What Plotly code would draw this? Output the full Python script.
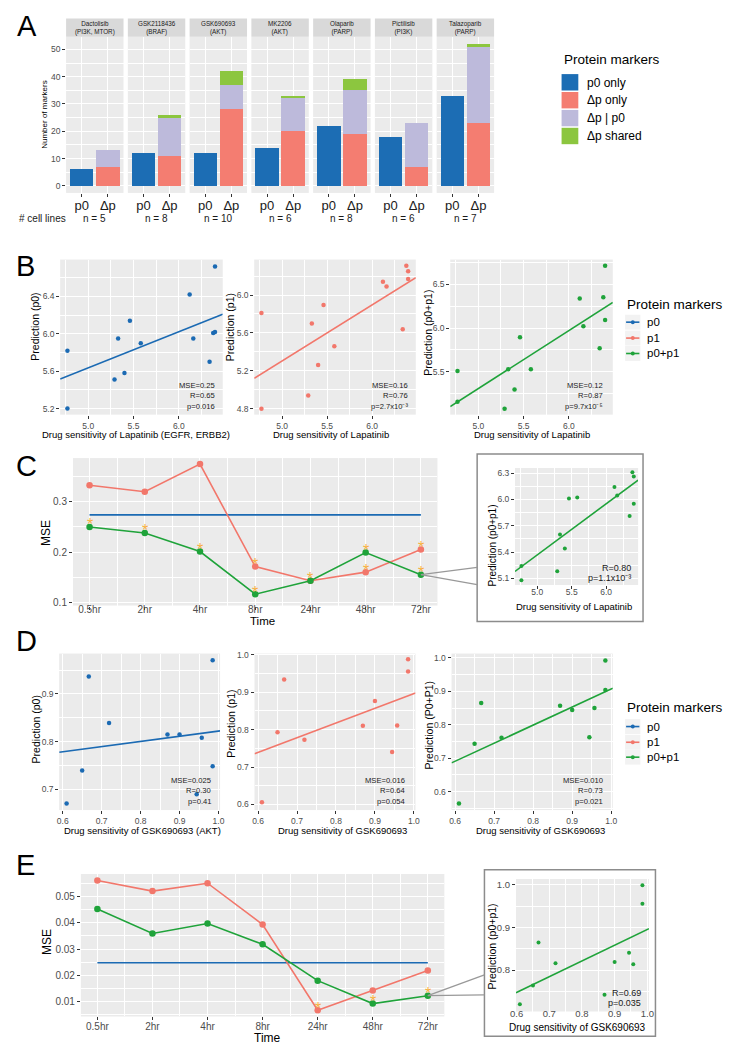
import plotly.graph_objects as go

W, H = 736, 1050
FONT = "Liberation Sans, Arial, Helvetica, sans-serif"

# ---------------- Panel A data ----------------
drugs = ["Dactolisib", "GSK2118436", "GSK690693", "MK2206", "Olaparib", "Pictilisib", "Talazoparib"]
targets = ["PI3K, MTOR", "BRAF", "AKT", "AKT", "PARP", "PI3K", "PARP"]
n_cell_lines = [5, 8, 10, 6, 8, 6, 7]
p0_only = [6, 12, 12, 14, 22, 18, 33]
dp_only = [7, 11, 28, 20, 19, 7, 23]
dp_given_p0 = [6, 14, 9, 12, 16, 16, 28]
dp_shared = [0, 1, 5, 1, 4, 0, 1]
bar_categories = ["p0", "Δp"]
marker_groups = ["p0 only", "Δp only", "Δp | p0", "Δp shared"]

# ---------------- Panel B data (Lapatinib) ----------------
lap_sens = [4.77, 4.77, 5.29, 5.33, 5.40, 5.46, 5.58, 6.12, 6.16, 6.34, 6.38, 6.40, 6.40]
B_pred_p0 = [5.82, 5.20, 5.51, 5.95, 5.58, 6.14, 5.90, 6.42, 5.95, 5.70, 6.01, 6.02, 6.72]
B_pred_p1 = [5.81, 4.80, 4.94, 5.70, 5.26, 5.895, 5.46, 6.14, 6.09, 5.64, 6.31, 6.25, 6.17]
B_pred_p0p1 = [5.51, 5.16, 5.08, 5.53, 5.30, 5.895, 5.53, 6.335, 6.02, 5.77, 6.35, 6.09, 6.71]
B_fit_slope = [0.386, 0.592, 0.660]
B_fit_intercept = [3.705, 2.345, 2.010]
B_stats = [["MSE=0.25", "R=0.65", "p=0.016"],
           ["MSE=0.16", "R=0.76", "p=2.7x10⁻³"],
           ["MSE=0.12", "R=0.87", "p=9.7x10⁻⁵"]]
B_ytitles = ["Prediction (p0)", "Prediction (p1)", "Prediction (p0+p1)"]
B_xtitles = ["Drug sensitivity of Lapatinib (EGFR, ERBB2)", "Drug sensitivity of Lapatinib",
             "Drug sensitivity of Lapatinib"]
series_names = ["p0", "p1", "p0+p1"]

# ---------------- Panel C data ----------------
times = ["0.5hr", "2hr", "4hr", "8hr", "24hr", "48hr", "72hr"]
C_mse_p0 = [0.274, 0.274, 0.274, 0.274, 0.274, 0.274, 0.274]
C_mse_p1 = [0.333, 0.320, 0.375, 0.171, 0.143, 0.160, 0.205]
C_mse_p0p1 = [0.250, 0.238, 0.201, 0.116, 0.143, 0.199, 0.155]
C_star_p1 = [0, 0, 0, 1, 0, 1, 1]
C_star_p0p1 = [1, 1, 1, 1, 1, 1, 1]
C_inset_pred = [5.08, 5.24, 5.18, 5.60, 5.44, 6.01, 6.02, 6.14, 6.045, 5.81, 6.31, 6.26, 5.95]
C_inset_fit = [0.583, 2.452]
C_inset_stats = ["R=0.80", "p=1.1x10⁻³"]

# ---------------- Panel D data (GSK690693) ----------------
gsk_sens = [0.61, 0.65, 0.667, 0.719, 0.869, 0.90, 0.944, 0.957, 0.985, 0.985]
D_pred_p0 = [0.670, 0.739, 0.937, 0.839, 0.815, 0.815, 0.689, 0.808, 0.971, 0.748]
D_pred_p1 = [0.606, 0.793, 0.934, 0.773, 0.810, 0.876, 0.740, 0.811, 0.9875, 0.955]
D_pred_p0p1 = [0.565, 0.7435, 0.865, 0.761, 0.857, 0.844, 0.763, 0.850, 0.992, 0.904]
D_fit_slope = [0.1085, 0.393, 0.540]
D_fit_intercept = [0.7135, 0.503, 0.367]
D_stats = [["MSE=0.025", "R=0.30", "p=0.41"],
           ["MSE=0.016", "R=0.64", "p=0.054"],
           ["MSE=0.010", "R=0.73", "p=0.021"]]
D_ytitles = ["Prediction (p0)", "Prediction (p1)", "Prediction (P0+P1)"]
D_xtitles = ["Drug sensitivity of GSK690693 (AKT)", "Drug sensitivity of GSK690693",
             "Drug sensitivity of GSK690693"]

# ---------------- Panel E data ----------------
E_mse_p0 = [0.0248, 0.0248, 0.0248, 0.0248, 0.0248, 0.0248, 0.0248]
E_mse_p1 = [0.0560, 0.0520, 0.0550, 0.0393, 0.0068, 0.0143, 0.0219]
E_mse_p0p1 = [0.0452, 0.0359, 0.0397, 0.0318, 0.0180, 0.0093, 0.0123]
E_star_p1 = [0, 0, 0, 0, 1, 0, 0]
E_star_p0p1 = [0, 0, 0, 0, 0, 1, 1]
E_inset_pred = [0.720, 0.764, 0.865, 0.816, 0.7425, 0.819, 0.841, 0.814, 0.9995, 0.956]
E_inset_fit = [0.3695, 0.526]
E_inset_stats = ["R=0.69", "p=0.035"]

# ---------------- styles ----------------
BAR_COLORS = ["#1c6db4", "#f47d71", "#bdbadb", "#8cc63f"]
SER_COLORS = ["#1b6ab3", "#f2776b", "#1fa33a"]
STAR = "#f7b03f"
BG = "#ebebeb"
TICKC = "#4d4d4d"

fig = go.Figure()
layout = dict(width=W, height=H, margin=dict(l=0, r=0, t=0, b=0),
              paper_bgcolor="white", plot_bgcolor=BG, showlegend=False,
              font=dict(family=FONT, color="black"))
annotations = []
shapes = []
_count = [0]


def px_x(p):
    return p / W


def px_y(p):
    return 1 - p / H


def ann(text, x, y, size, color="black", xanchor="center", yanchor="middle", angle=0, **kw):
    d = dict(text=text, x=px_x(x), y=px_y(y), xref="paper", yref="paper", showarrow=False,
             font=dict(size=size, color=color, family=FONT), xanchor=xanchor, yanchor=yanchor,
             textangle=angle)
    d.update(kw)
    annotations.append(d)


COMMON = dict(showgrid=True, gridcolor="white", gridwidth=1.1, zeroline=False, showline=False,
              ticks="outside", ticklen=3, tickwidth=1, tickcolor="#333333",
              tickfont=dict(size=8.5, color=TICKC, family=FONT), fixedrange=True)


def add_axes(xpx, ypx, xr, yr, xkw=None, ykw=None, shared_y=None):
    _count[0] += 1
    i = _count[0]
    s = "" if i == 1 else str(i)
    yname = shared_y if shared_y else "y" + s
    xa = dict(COMMON, domain=[px_x(xpx[0]), px_x(xpx[1])], range=xr, anchor=yname)
    if xkw:
        xa.update(xkw)
    layout["xaxis" + s] = xa
    if not shared_y:
        ya = dict(COMMON, domain=[px_y(ypx[1]), px_y(ypx[0])], range=yr, anchor="x" + s)
        if ykw:
            ya.update(ykw)
        layout["yaxis" + s] = ya
    return "x" + s, yname


def to_px(xpx, ypx, xr, yr, x, y):
    X = xpx[0] + (x - xr[0]) / (xr[1] - xr[0]) * (xpx[1] - xpx[0])
    Y = ypx[1] - (y - yr[0]) / (yr[1] - yr[0]) * (ypx[1] - ypx[0])
    return X, Y


def minor(t0, dt):
    return dict(showgrid=True, gridcolor="white", gridwidth=0.5, tick0=t0, dtick=dt, ticks="")


# ================= Panel A =================
ay_range = [-2.6, 54.6]
A_y = None
for i, drug in enumerate(drugs):
    x0 = 61 + i * 62.7
    x1 = x0 + 58.3
    xref, yref = add_axes([x0, x1], [33, 190], [0.4, 2.6], ay_range,
                          xkw=dict(tickmode="array", tickvals=[1, 2], ticktext=bar_categories,
                                   ticklabelstandoff=-3,
                                   tickfont=dict(size=13, color="#1a1a1a", family=FONT)),
                          ykw=dict(tick0=0, dtick=10, minor=minor(5, 10)),
                          shared_y=A_y)
    A_y = yref
    fig.add_trace(go.Bar(x=[1], y=[p0_only[i]], width=0.9, marker_color=BAR_COLORS[0],
                         marker_line_width=0, xaxis=xref, yaxis=yref, name=marker_groups[0]))
    for k, vals in enumerate([dp_only, dp_given_p0, dp_shared]):
        fig.add_trace(go.Bar(x=[2], y=[vals[i]], width=0.9, marker_color=BAR_COLORS[k + 1],
                             marker_line_width=0, xaxis=xref, yaxis=yref, name=marker_groups[k + 1]))
    shapes.append(dict(type="rect", xref="paper", yref="paper", x0=px_x(x0), x1=px_x(x1),
                       y0=px_y(33), y1=px_y(14.5), fillcolor="#d9d9d9", line_width=0, layer="below"))
    ann(f"{drug}<br>({targets[i]})", (x0 + x1) / 2, 24, 6.3, color="#1a1a1a")
    ann(f"n = {n_cell_lines[i]}", (x0 + x1) / 2, 215.5, 10, color="#1a1a1a")
layout["barmode"] = "stack"
ann("# cell lines", 37, 215.5, 10, color="#1a1a1a")
ann("Number of markers", 39, 111, 8, angle=-90)
ann("A", 21, 22.5, 29)

# Legend A
ann("Protein markers", 564, 56, 13.5, xanchor="left")
for k, name in enumerate(marker_groups):
    y0 = 70.5 + k * 18
    shapes.append(dict(type="rect", xref="paper", yref="paper", x0=px_x(564), x1=px_x(581),
                       y0=px_y(y0 + 16.5), y1=px_y(y0), fillcolor=BAR_COLORS[k], line_width=0))
    ann(name, 587.5, y0 + 8.5, 12, xanchor="left")


# ================= scatter helper =================
def scatter_panel(xpx, ypx, xr, yr, xt0, xdt, yt0, ydt, xs, ys, color, slope, intercept,
                  fmt_x=".1f", fmt_y=".1f", tsize=8.5, msize=4.5, xstand=0, xticks="outside"):
    xref, yref = add_axes(xpx, ypx, xr, yr,
                          xkw=dict(tick0=xt0, dtick=xdt, tickformat=fmt_x, minor=minor(xt0 + xdt / 2, xdt),
                                   ticklabelstandoff=xstand, ticks=xticks,
                                   tickfont=dict(size=tsize, color=TICKC, family=FONT)),
                          ykw=dict(tick0=yt0, dtick=ydt, tickformat=fmt_y, minor=minor(yt0 + ydt / 2, ydt),
                                   tickfont=dict(size=tsize, color=TICKC, family=FONT)))
    fig.add_trace(go.Scatter(x=xs, y=ys, mode="markers", marker=dict(color=color, size=msize),
                             xaxis=xref, yaxis=yref, cliponaxis=False))
    fig.add_trace(go.Scatter(x=list(xr), y=[slope * v + intercept for v in xr], mode="lines",
                             line=dict(color=color, width=1.6), xaxis=xref, yaxis=yref))
    return xref, yref


def legend_lines(top, rows):
    ann("Protein markers", 628, top, 13.5, xanchor="left")
    for k, name in enumerate(series_names):
        yc = rows[k]
        shapes.append(dict(type="rect", xref="paper", yref="paper", x0=px_x(628.5), x1=px_x(644),
                           y0=px_y(yc + 7.5), y1=px_y(yc - 7.5), fillcolor="#f2f2f2", line_width=0))
        shapes.append(dict(type="line", xref="paper", yref="paper", x0=px_x(629.5), x1=px_x(643),
                           y0=px_y(yc), y1=px_y(yc), line=dict(color=SER_COLORS[k], width=1.6)))
        shapes.append(dict(type="circle", xref="paper", yref="paper", x0=px_x(634.3), x1=px_x(638.3),
                           y0=px_y(yc + 2), y1=px_y(yc - 2), fillcolor=SER_COLORS[k], line_width=0))
        ann(name, 648.5, yc, 11.5, xanchor="left")


# ================= Panel B =================
B_xpx = [[55, 220], [252, 416], [451, 616]]
B_yr = [[5.135, 6.795], [4.737, 6.375], [5.013, 6.78]]
B_ytick = [(5.2, 0.4), (4.8, 0.4), (5.5, 0.5)]
B_xr = [4.69, 6.485]
B_preds = [B_pred_p0, B_pred_p1, B_pred_p0p1]
B_ytitle_pos = [(30, 325), (227.5, 325), (429, 331)]
B_xtitle_pos = [131.5, 330, 533.5]
B_stat_right = [214, 410, 608.5]
for j in range(3):
    scatter_panel(B_xpx[j], [257, 413], B_xr, B_yr[j], 5.0, 0.5, B_ytick[j][0], B_ytick[j][1],
                  lap_sens, B_preds[j], SER_COLORS[j], B_fit_slope[j], B_fit_intercept[j])
    ann(B_ytitles[j], B_ytitle_pos[j][0], B_ytitle_pos[j][1], 10.5, angle=-90)
    ann(B_xtitles[j], B_xtitle_pos[j], 433, 9.5)
    for r, t in enumerate(B_stats[j]):
        ann(t, B_stat_right[j], 383.3 + r * 10.9, 7.6, color="#1a1a1a", xanchor="right")
ann("B", 20, 264, 29)
legend_lines(302, [320, 336, 351.5])


# ================= line panel helper =================
def line_panel(xpx, ypx, yr, yt0, ydt, fmt_y, p0, p1, p0p1, star1, star2, xstand):
    xr = [0.7, 7.3]
    xref, yref = add_axes(xpx, ypx, xr, yr,
                          xkw=dict(tickmode="array", tickvals=list(range(1, 8)), ticktext=times,
                                   ticklabelstandoff=xstand,
                                   tickfont=dict(size=10, color=TICKC, family=FONT),
                                   minor=dict(showgrid=True, gridcolor="white", gridwidth=0.5,
                                              tickmode="array", tickvals=[k + 0.5 for k in range(1, 7)])),
                          ykw=dict(tick0=yt0, dtick=ydt, tickformat=fmt_y,
                                   tickfont=dict(size=10, color=TICKC, family=FONT),
                                   minor=minor(yt0 + ydt / 2, ydt)))
    xs = list(range(1, 8))
    fig.add_trace(go.Scatter(x=xs, y=p0, mode="lines", line=dict(color=SER_COLORS[0], width=1.6),
                             xaxis=xref, yaxis=yref, name=series_names[0]))
    fig.add_trace(go.Scatter(x=xs, y=p1, mode="lines+markers", line=dict(color=SER_COLORS[1], width=1.6),
                             marker=dict(size=6.5, color=SER_COLORS[1]), xaxis=xref, yaxis=yref,
                             name=series_names[1]))
    fig.add_trace(go.Scatter(x=xs, y=p0p1, mode="lines+markers", line=dict(color=SER_COLORS[2], width=1.6),
                             marker=dict(size=6.5, color=SER_COLORS[2]), xaxis=xref, yaxis=yref,
                             name=series_names[2]))
    for vals, flags in ((p1, star1), (p0p1, star2)):
        for k, f in enumerate(flags):
            if f:
                annotations.append(dict(text="*", x=k + 1, y=vals[k], xref=xref, yref=yref,
                                        showarrow=False, yshift=2,
                                        font=dict(size=16, color=STAR, family=FONT)))
    return xr


# ================= Panel C =================
C_xpx, C_ypx, C_yr = [68, 438], [456.7, 605], [0.0935, 0.387]
C_xr = line_panel(C_xpx, C_ypx, C_yr, 0.1, 0.1, ".1f", C_mse_p0, C_mse_p1, C_mse_p0p1,
                  C_star_p1, C_star_p0p1, -9)
ann("MSE", 40, 531.7, 12, angle=-90)
ann("Time", 260, 620.5, 11.5)
ann("C", 21, 465, 29)

# inset C
shapes.append(dict(type="rect", xref="paper", yref="paper", x0=px_x(478.3), x1=px_x(646.7),
                   y0=px_y(621), y1=px_y(452.7), line=dict(color="#8c8c8c", width=1.5)))
px0, py0 = to_px(C_xpx, C_ypx, C_xr, C_yr, 7, C_mse_p0p1[6])
for ye in (566.7, 584):
    shapes.append(dict(type="line", xref="paper", yref="paper", x0=px_x(px0), y0=px_y(py0),
                       x1=px_x(478.3), y1=px_y(ye), line=dict(color="#999999", width=1.3)))
scatter_panel([516.7, 641.7], [466.7, 584.3], [4.677, 6.463], [5.025, 6.357], 5.0, 0.5, 5.1, 0.3,
              lap_sens, C_inset_pred, SER_COLORS[2], C_inset_fit[0], C_inset_fit[1], tsize=8.5, msize=4,
              xstand=-4)
ann("Prediction (p0+p1)", 494, 545, 10, angle=-90)
ann("Drug sensitivity of Lapatinib", 577, 606, 9.5)
for r, t in enumerate(C_inset_stats):
    ann(t, 636.7, 567.5 + r * 9.5, 9, color="#1a1a1a", xanchor="right")

# ================= Panel D =================
D_xpx = [[54, 217.3], [252.3, 415.7], [452.3, 616]]
D_yr = [[0.656, 0.985], [0.585, 1.003], [0.545, 1.013]]
D_ytick0 = [0.7, 0.6, 0.6]
D_xr = [0.591, 1.004]
D_preds = [D_pred_p0, D_pred_p1, D_pred_p0p1]
D_ytitle_pos = [(30, 730), (228.3, 724), (429, 726)]
D_xtitle_pos = [139, 342, 542.5]
D_stat_right = [210, 407.3, 608.3]
for j in range(3):
    scatter_panel(D_xpx[j], [653.3, 810.7], D_xr, D_yr[j], 0.6, 0.1, D_ytick0[j], 0.1,
                  gsk_sens, D_preds[j], SER_COLORS[j], D_fit_slope[j], D_fit_intercept[j])
    ann(D_ytitles[j], D_ytitle_pos[j][0], D_ytitle_pos[j][1], 10.5, angle=-90)
    ann(D_xtitles[j], D_xtitle_pos[j], 831.5, 9.5)
    for r, t in enumerate(D_stats[j]):
        ann(t, D_stat_right[j], 780.5 + r * 10.7, 7.6, color="#1a1a1a", xanchor="right")
ann("D", 21, 641, 29)
legend_lines(707.7, [726.7, 742.5, 757.5])

# ================= Panel E =================
E_xpx, E_ypx, E_yr = [76, 445], [875, 1018.3], [0.0044, 0.0585]
E_xr = line_panel(E_xpx, E_ypx, E_yr, 0.01, 0.01, ".2f", E_mse_p0, E_mse_p1, E_mse_p0p1,
                  E_star_p1, E_star_p0p1, -2)
ann("MSE", 41.7, 943.3, 12, angle=-90)
ann("Time", 265, 1039.5, 12)
ann("E", 20, 866, 29)

shapes.append(dict(type="rect", xref="paper", yref="paper", x0=px_x(485.7), x1=px_x(659.3),
                   y0=px_y(1038.3), y1=px_y(870.7), line=dict(color="#8c8c8c", width=1.5)))
px0, py0 = to_px(E_xpx, E_ypx, E_xr, E_yr, 7, E_mse_p0p1[6])
for ye in (976.5, 996.5):
    shapes.append(dict(type="line", xref="paper", yref="paper", x0=px_x(px0), y0=px_y(py0),
                       x1=px_x(485.7), y1=px_y(ye), line=dict(color="#999999", width=1.3)))
scatter_panel([517.7, 652.7], [880, 1013.3], [0.598, 1.005], [0.703, 1.014], 0.6, 0.1, 0.8, 0.1,
              gsk_sens, E_inset_pred, SER_COLORS[2], E_inset_fit[0], E_inset_fit[1], tsize=9.5, msize=4,
              xstand=-5, xticks="")
ann("Prediction (p0+p1)", 493.3, 948, 10.5, angle=-90)
ann("Drug sensitivity of GSK690693", 580, 1029, 10)
for r, t in enumerate(E_inset_stats):
    ann(t, 646.7, 995 + r * 10, 9, color="#1a1a1a", xanchor="right")

layout["annotations"] = annotations
layout["shapes"] = shapes
fig.update_layout(**layout)
fig.write_html("out.html", config={"displayModeBar": False},
               post_script="document.body.style.margin='0';document.body.style.overflow='hidden';")
